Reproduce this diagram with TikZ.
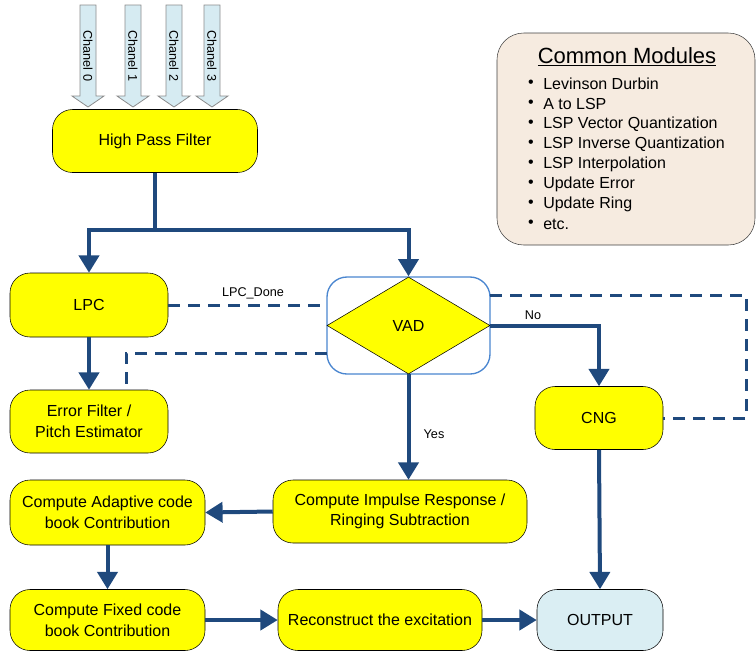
\documentclass[tikz,border=0pt]{standalone}
\usepackage{fontspec}
\setmainfont{Liberation Sans}
\usetikzlibrary{arrows.meta,shapes.geometric}

\definecolor{boxyellow}{HTML}{FFFF00}
\definecolor{flowblue}{HTML}{1F497D}
\definecolor{vadblue}{HTML}{4A86D0}
\definecolor{chanfill}{HTML}{D6EBF2}
\definecolor{outfill}{HTML}{DAEEF3}
\definecolor{modfill}{HTML}{F6EBE0}

\tikzset{
  block/.style={draw=black, fill=boxyellow, rounded corners=15pt, align=center,
    font=\fontsize{12}{15.5}\selectfont, inner sep=2pt},
  flow/.style={draw=flowblue, line width=3pt, -{Triangle[width=15pt,length=13pt]}},
  sig/.style={draw=flowblue, line width=2.25pt, dash pattern=on 9pt off 6pt},
  lbl/.style={font=\fontsize{9.5}{11}\selectfont},
  chan/.style={draw=black!45, fill=chanfill, line width=0.6pt},
  item/.style={font=\fontsize{12}{14}\selectfont, inner sep=0pt},
}

\begin{document}
\begin{tikzpicture}[x=0.75pt, y=-0.75pt]
\useasboundingbox (0,0) rectangle (756,651);

% Input channels
\foreach \i/\x in {0/88,1/133,2/174,3/212} {
  \draw[chan] (\x-8,5) -- (\x+8,5) -- (\x+8,96) -- (\x+16,96) -- (\x,107)
    -- (\x-16,96) -- (\x-8,96) -- cycle;
  \node[rotate=-90, lbl, inner sep=0pt] (ch\i) at (\x,56) {Chanel \i};
}

% Common modules box
\node[draw=black!75, fill=modfill, rounded corners=20pt, minimum width=193.5pt,
  minimum height=159pt] (mods) at (626,139) {};
\node[font=\fontsize{16.5}{18}\selectfont] (modtitle) at (627,57) {\underline{Common Modules}};
\foreach \t [count=\k] in {Levinson Durbin, A to LSP, LSP Vector Quantization,
    LSP Inverse Quantization, LSP Interpolation, Update Error, Update Ring, etc.} {
  \node[item] (bul\k) at (531,64+20*\k) {\textbullet};
  \node[item, anchor=west] (mod\k) at (543,64+20*\k) {\t};
}

% Processing blocks
\node[block, minimum width=153.75pt, minimum height=47.25pt] (hpf) at (155,141) {High Pass Filter};
\node[block, minimum width=118.5pt, minimum height=48pt] (lpc) at (89,305) {LPC};
\node[block, minimum width=118.5pt, minimum height=47.25pt] (err) at (89,421.5) {Error Filter /\\Pitch Estimator};
\node[block, minimum width=96pt, minimum height=47.25pt] (cng) at (599,418) {CNG};
\node[block, minimum width=146.25pt, minimum height=48.75pt] (adp) at (107.5,512.5) {Compute Adaptive code\\book Contribution};
\node[block, minimum width=190.5pt, minimum height=47.25pt] (imp) at (400,511.5) {Compute Impulse Response /\\Ringing Subtraction};
\node[block, minimum width=146.25pt, minimum height=45.75pt] (fix) at (107.5,620) {Compute Fixed code\\book Contribution};
\node[block, minimum width=153pt, minimum height=45.75pt] (rec) at (380,620) {Reconstruct the excitation};
\node[block, fill=outfill, minimum width=94.5pt, minimum height=45.75pt] (out) at (600,620) {OUTPUT};

% VAD decision
\node[draw=vadblue, line width=1pt, rounded corners=15pt, minimum width=122.25pt,
  minimum height=72.75pt] (vadbox) at (408.5,325.5) {};
\node[diamond, aspect=1.68, draw=black, fill=boxyellow, inner sep=0pt, minimum width=122.25pt,
  minimum height=72.75pt, font=\fontsize{12}{14}\selectfont] (vad) at (vadbox.center) {VAD};

% Main flow
\coordinate (split) at (155,230);
\draw[flow] (hpf.south) -- (split) -| (lpc.north);
\draw[flow] (split) -| (vadbox.north);
\draw[flow] (lpc.south) -- (err.north);
\draw[flow] (vad.east) -| (cng.north);
\node[lbl] (no) at (533,315) {No};
\draw[flow] (vad.south) -- (vad.south |- imp.north);
\node[lbl] (yes) at (434,434) {Yes};
\draw[flow] (imp.west) -- (adp.east);
\draw[flow] (adp.south) -- (fix.north);
\draw[flow] (fix.east) -- (rec.west);
\draw[flow] (rec.east) -- (out.west);
\draw[flow] (cng.south) -- (out.north);

% Control signals
\draw[sig] (lpc.east) -- (lpc.east -| vadbox.west);
\node[lbl] (done) at (253,293) {LPC\_Done};
\coordinate (vd) at (327,353);
\coordinate (ve) at (126,390);
\draw[sig] (vd) -| (ve);
\coordinate (vt) at (490,295);
\coordinate (rc) at (746,295);
\draw[sig] (vt) -- (rc) |- (cng.east);

\end{tikzpicture}
\end{document}
